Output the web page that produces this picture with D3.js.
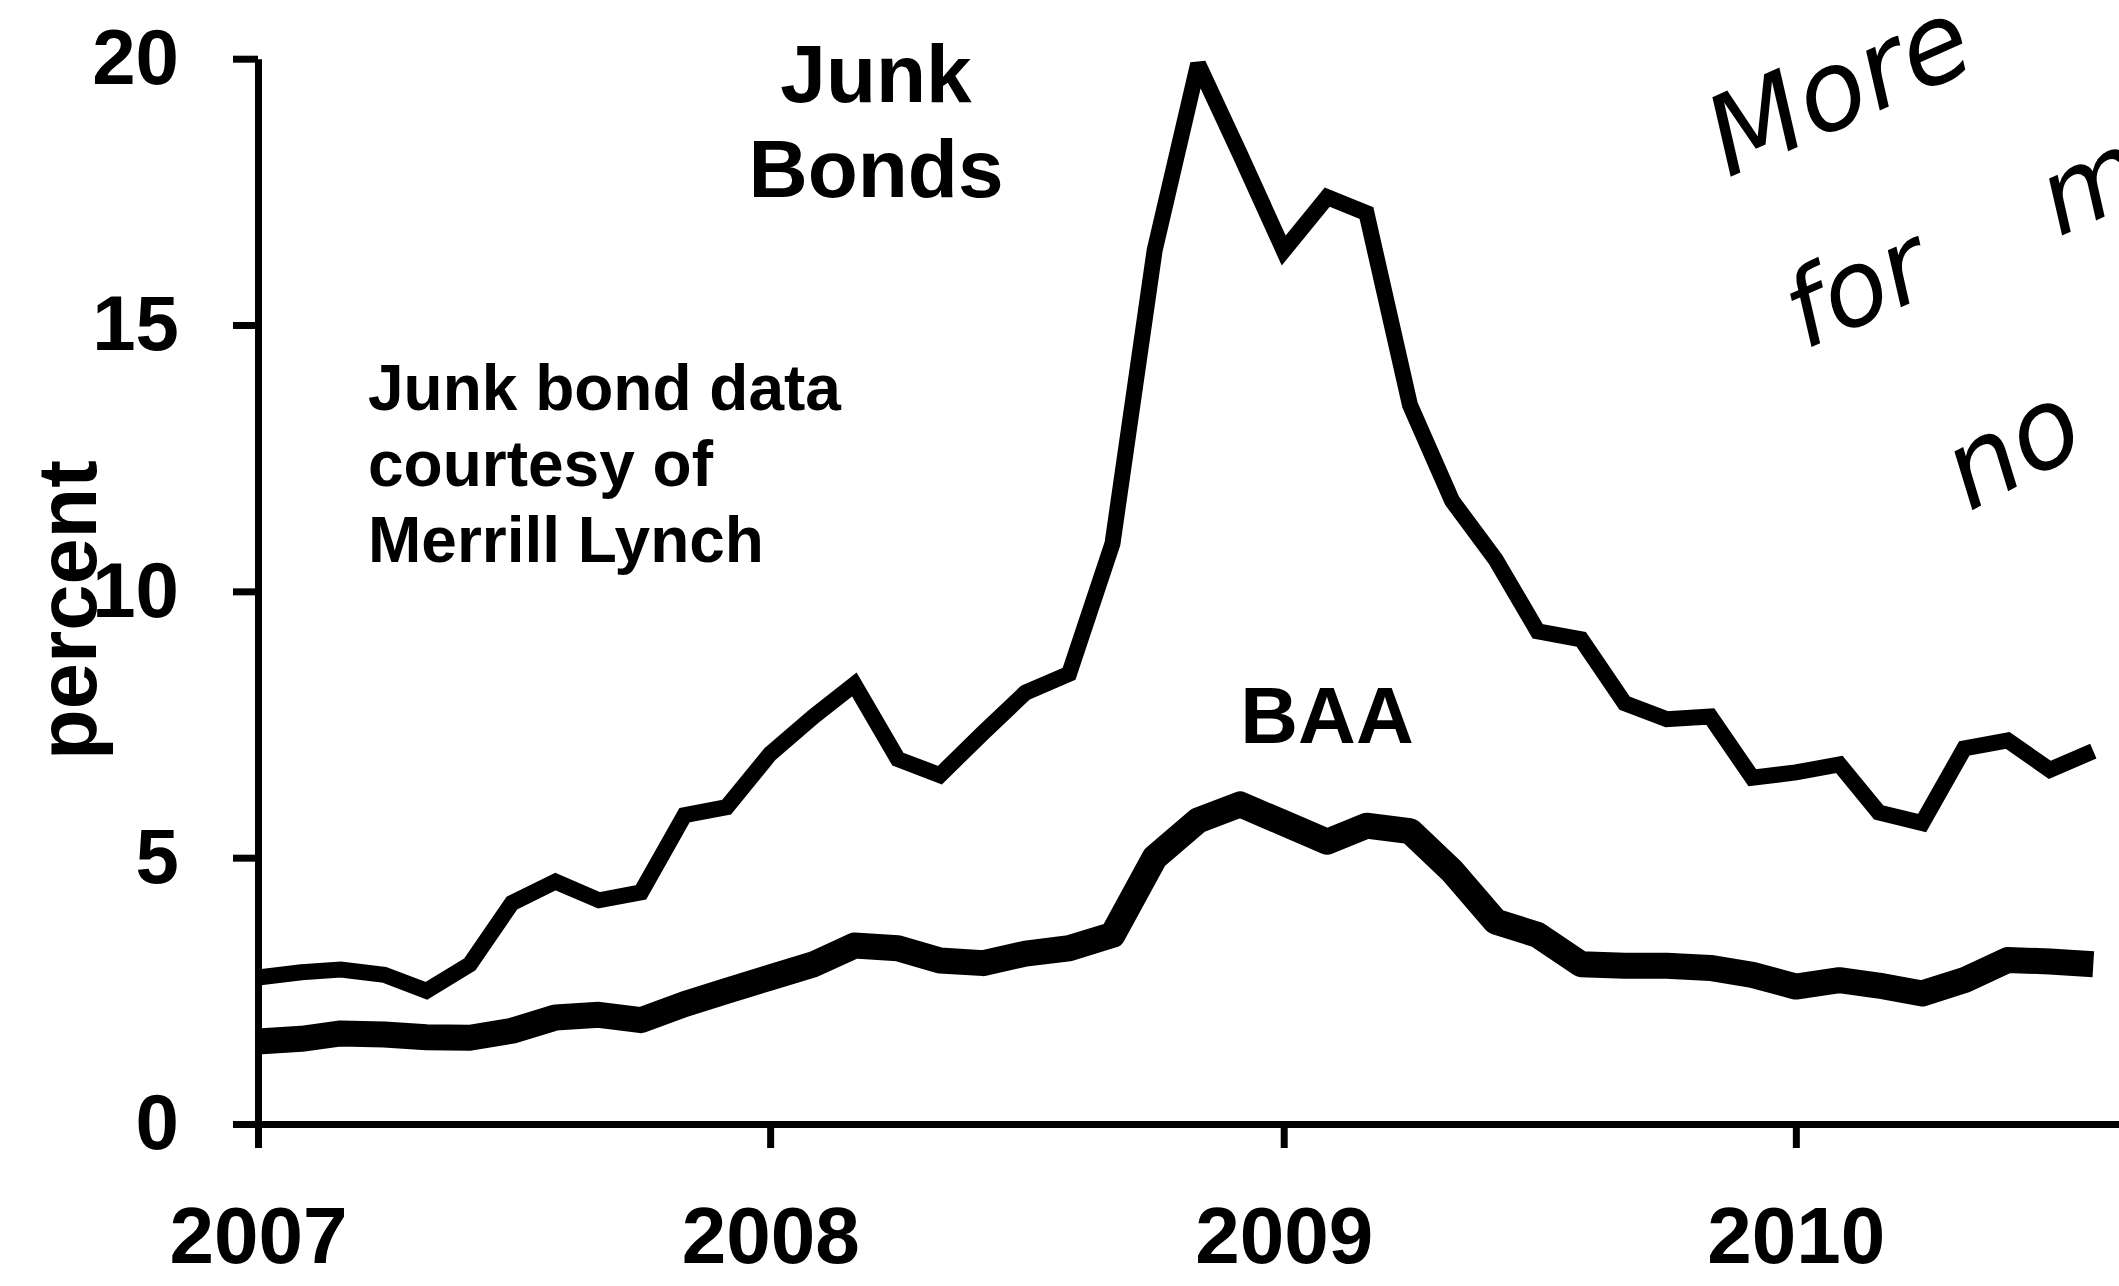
<!DOCTYPE html>
<html lang="en">
  <head>
    <meta charset="UTF-8" />
    <title>Junk Bonds vs BAA</title>
    <script src="https://d3js.org/d3.v7.min.js"></script>
    <style>
      body {
        margin: 0;
        background: #ffffff;
      }
      #chart {
        width: 2119px;
        height: 1286px;
      }
      .axis path,
      .axis line {
        stroke: #000;
        stroke-width: 7px;
      }
      .axis text {
        fill: #000;
        font-family: "Liberation Sans", Arial, sans-serif;
        font-weight: bold;
      }
      .label {
        font-family: "Liberation Sans", Arial, sans-serif;
        font-weight: bold;
        fill: #000;
      }
      .hand {
        font-family: "DejaVu Sans", sans-serif;
        font-weight: 200;
        font-style: italic;
        fill: #000;
        white-space: pre;
      }
    </style>
  </head>
  <body>
    <div id="chart"></div>
    <script>
      // monthly observations, Jan 2007 - Aug 2010
      const months = [
        "2007-01", "2007-02", "2007-03", "2007-04", "2007-05", "2007-06",
        "2007-07", "2007-08", "2007-09", "2007-10", "2007-11", "2007-12",
        "2008-01", "2008-02", "2008-03", "2008-04", "2008-05", "2008-06",
        "2008-07", "2008-08", "2008-09", "2008-10", "2008-11", "2008-12",
        "2009-01", "2009-02", "2009-03", "2009-04", "2009-05", "2009-06",
        "2009-07", "2009-08", "2009-09", "2009-10", "2009-11", "2009-12",
        "2010-01", "2010-02", "2010-03", "2010-04", "2010-05", "2010-06",
        "2010-07", "2010-08"
      ];

      const junk = [
        2.75, 2.85, 2.9, 2.8, 2.5, 3.0, 4.15, 4.55, 4.2, 4.35, 5.8, 5.95,
        6.95, 7.65, 8.25, 6.85, 6.55, 7.35, 8.1, 8.45, 10.9, 16.4, 19.9, 18.2,
        16.4, 17.4, 17.1, 13.5, 11.7, 10.6, 9.25, 9.1, 7.9, 7.6, 7.65, 6.5,
        6.6, 6.75, 5.85, 5.65, 7.05, 7.2, 6.65, 7.0
      ];

      const baa = [
        1.55, 1.6, 1.7, 1.68, 1.63, 1.62, 1.75, 2.0, 2.05, 1.95, 2.25, 2.5,
        2.75, 3.0, 3.35, 3.3, 3.07, 3.02, 3.2, 3.3, 3.55, 5.0, 5.7, 6.0,
        5.65, 5.3, 5.6, 5.5, 4.75, 3.8, 3.55, 3.0, 2.97, 2.97, 2.93, 2.8,
        2.58, 2.7, 2.6, 2.45, 2.7, 3.08, 3.05, 3.0
      ];

      const yearTicks = ["2007", "2008", "2009", "2010"];
      const yTicks = [0, 5, 10, 15, 20];

      const width = 2119;
      const height = 1286;

      const parseMonth = d3.timeParse("%Y-%m");
      const parseYear = d3.timeParse("%Y");

      const svg = d3
        .select("#chart")
        .append("svg")
        .attr("width", width)
        .attr("height", height);

      // one year = 512.5px, axis runs off the right edge
      const x = d3
        .scaleTime()
        .domain([parseYear("2007"), parseYear("2011")])
        .range([258, 258 + 4 * 512.5]);

      const y = d3.scaleLinear().domain([0, 20]).range([1124, 58.7]);

      const xAxis = d3
        .axisBottom(x)
        .tickValues(yearTicks.map(parseYear))
        .tickFormat(d3.timeFormat("%Y"))
        .tickSize(24)
        .tickSizeOuter(0)
        .tickPadding(58);

      const yAxis = d3
        .axisLeft(y)
        .tickValues(yTicks)
        .tickSize(25)
        .tickSizeOuter(0)
        .tickPadding(54);

      svg
        .append("g")
        .attr("class", "axis")
        .attr("transform", "translate(0," + y(0) + ")")
        .call(xAxis)
        .selectAll("text")
        .style("font-size", "80px");

      svg
        .append("g")
        .attr("class", "axis")
        .attr("transform", "translate(" + x(parseYear("2007")) + ",0)")
        .call(yAxis)
        .selectAll("text")
        .style("font-size", "78px");

      const line = d3
        .line()
        .x((d, i) => x(parseMonth(months[i])))
        .y((d) => y(d));

      svg
        .append("path")
        .datum(baa)
        .attr("d", line)
        .attr("fill", "none")
        .attr("stroke", "#000")
        .attr("stroke-width", 26)
        .attr("stroke-linejoin", "round")
        .attr("stroke-linecap", "butt");

      svg
        .append("path")
        .datum(junk)
        .attr("d", line)
        .attr("fill", "none")
        .attr("stroke", "#000")
        .attr("stroke-width", 16)
        .attr("stroke-linejoin", "miter")
        .attr("stroke-miterlimit", 3);

      // y axis title
      svg
        .append("text")
        .attr("class", "label")
        .attr("transform", "translate(96,610) rotate(-90)")
        .attr("text-anchor", "middle")
        .style("font-size", "83px")
        .text("percent");

      // series labels
      svg
        .append("text")
        .attr("class", "label")
        .attr("x", 876)
        .attr("y", 102)
        .attr("text-anchor", "middle")
        .style("font-size", "82px")
        .text("Junk");
      svg
        .append("text")
        .attr("class", "label")
        .attr("x", 876)
        .attr("y", 197)
        .attr("text-anchor", "middle")
        .style("font-size", "82px")
        .text("Bonds");

      svg
        .append("text")
        .attr("class", "label")
        .attr("x", 1327)
        .attr("y", 743)
        .attr("text-anchor", "middle")
        .style("font-size", "80px")
        .text("BAA");

      const note = ["Junk bond data", "courtesy of", "Merrill Lynch"];
      svg
        .selectAll("text.note")
        .data(note)
        .enter()
        .append("text")
        .attr("class", "label note")
        .attr("x", 368)
        .attr("y", (d, i) => 410 + i * 76)
        .style("font-size", "64px")
        .text((d) => d);

      // handwritten note, cut off by the right page edge
      const hand = [
        { t: "More", x: 1728, y: 178, a: -24, s: 110 },
        { t: "for    m", x: 1805, y: 350, a: -24, s: 105 },
        { t: "no", x: 1969, y: 512, a: -28, s: 110 }
      ];
      svg
        .selectAll("text.hand")
        .data(hand)
        .enter()
        .append("text")
        .attr("class", "hand")
        .attr("transform", (d) => "translate(" + d.x + "," + d.y + ") rotate(" + d.a + ")")
        .style("font-size", (d) => d.s + "px")
        .text((d) => d.t);
    </script>
  </body>
</html>
